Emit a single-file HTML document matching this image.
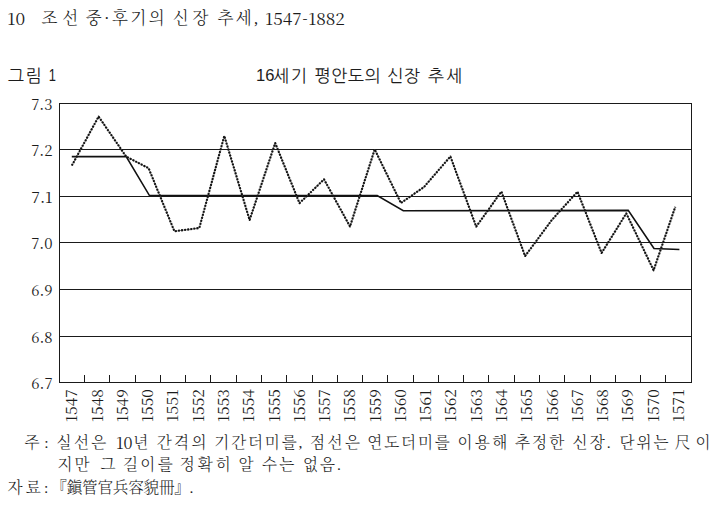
<!DOCTYPE html>
<html lang="ko">
<head>
<meta charset="utf-8">
<title>16세기 평안도의 신장 추세</title>
<style>
html,body{margin:0;padding:0;background:#fff;}
body{width:716px;height:509px;overflow:hidden;}
svg{display:block;}
.serif{font-family:"Liberation Serif","Noto Serif CJK SC",serif;font-weight:300;}
.sans{font-family:"Liberation Sans","NanumGothic","Noto Sans CJK KR",sans-serif;}
.num{font-family:"Noto Serif CJK SC","Liberation Serif",serif;font-weight:400;}
text{fill:#1c1c1c;}
</style>
</head>
<body>
<svg width="716" height="509" viewBox="0 0 716 509">
<rect x="0" y="0" width="716" height="509" fill="#ffffff"/>
<g class="serif" font-size="16.5">
<text x="7.39" y="24.7" font-size="16.0" class="num" textLength="17.81" lengthAdjust="spacingAndGlyphs">10</text>
<text x="41.38" y="24.4" textLength="36.87" lengthAdjust="spacing">조선</text>
<text x="85.63" y="24.4" textLength="79.12" lengthAdjust="spacing">중·후기의</text>
<text x="172.65" y="24.4" textLength="35.74" lengthAdjust="spacing">신장</text>
<text x="217.39" y="24.4" textLength="40.64" lengthAdjust="spacing">추세,</text>
<text x="265.12" y="24.7" font-size="16.0" class="num" textLength="79.79" lengthAdjust="spacingAndGlyphs">1547-1882</text>
</g>
<g class="sans" font-size="17.2">
<text x="7.80" y="81.5" textLength="33.98" lengthAdjust="spacing">그림</text>
<text x="48.64" y="80.6" font-size="16.6" textLength="7.18" lengthAdjust="spacingAndGlyphs">1</text>
</g>
<g class="sans" font-size="17.2">
<text x="256.07" y="81.0" font-size="16.6" textLength="18.41" lengthAdjust="spacingAndGlyphs">16</text>
<text x="273.35" y="81.9" textLength="33.54" lengthAdjust="spacing">세기</text>
<text x="314.39" y="81.9" textLength="66.16" lengthAdjust="spacing">평안도의</text>
<text x="387.19" y="81.9" textLength="32.75" lengthAdjust="spacing">신장</text>
<text x="427.76" y="81.9" textLength="34.54" lengthAdjust="spacing">추세</text>
</g>
<g class="serif" font-size="15.6">
<text x="24.40" y="448.4" textLength="24.07" lengthAdjust="spacing">주:</text>
<text x="56.62" y="448.4" textLength="49.62" lengthAdjust="spacing">실선은</text>
<text x="115.97" y="448.7" font-size="16.0" class="num" textLength="16.58" lengthAdjust="spacingAndGlyphs">10</text>
<text x="133.24" y="448.4">년</text>
<text x="156.67" y="448.4" textLength="49.83" lengthAdjust="spacing">간격의</text>
<text x="214.28" y="448.4" textLength="88.16" lengthAdjust="spacing">기간더미를,</text>
<text x="309.91" y="448.4" textLength="50.11" lengthAdjust="spacing">점선은</text>
<text x="367.25" y="448.4" textLength="82.61" lengthAdjust="spacing">연도더미를</text>
<text x="457.46" y="448.4" textLength="49.89" lengthAdjust="spacing">이용해</text>
<text x="515.05" y="448.4" textLength="49.18" lengthAdjust="spacing">추정한</text>
<text x="572.44" y="448.4" textLength="38.34" lengthAdjust="spacing">신장.</text>
<text x="619.42" y="448.4" textLength="49.05" lengthAdjust="spacing">단위는</text>
<text x="674.84" y="448.4" textLength="35.71" lengthAdjust="spacing">尺이</text>
</g>
<g class="serif" font-size="15.6">
<text x="57.50" y="470.4" textLength="32.11" lengthAdjust="spacing">지만</text>
<text x="100.40" y="470.4">그</text>
<text x="122.89" y="470.4" textLength="49.82" lengthAdjust="spacing">길이를</text>
<text x="179.79" y="470.4" textLength="50.94" lengthAdjust="spacing">정확히</text>
<text x="238.45" y="470.4">알</text>
<text x="262.10" y="470.4" textLength="32.24" lengthAdjust="spacing">수는</text>
<text x="303.08" y="470.4" textLength="37.87" lengthAdjust="spacing">없음.</text>
</g>
<g class="serif" font-size="15.6">
<text x="7.62" y="493.4" textLength="40.84" lengthAdjust="spacing">자료:</text>
<text x="51.33" y="493.4" textLength="142.19" lengthAdjust="spacing">『鎭管官兵容貌冊』.</text>
</g>
<g stroke="#1a1a1a" stroke-width="1" fill="none">
<line x1="59.0" y1="103.5" x2="692.0" y2="103.5"/>
<line x1="59.0" y1="149.5" x2="692.0" y2="149.5"/>
<line x1="59.0" y1="196.5" x2="692.0" y2="196.5"/>
<line x1="59.0" y1="242.5" x2="692.0" y2="242.5"/>
<line x1="59.0" y1="289.5" x2="692.0" y2="289.5"/>
<line x1="59.0" y1="336.5" x2="692.0" y2="336.5"/>
<line x1="59.0" y1="382.5" x2="692.0" y2="382.5"/>
<line x1="59.5" y1="103.5" x2="59.5" y2="382.5"/>
<line x1="691.5" y1="103.5" x2="691.5" y2="382.5"/>
<line x1="84.5" y1="375" x2="84.5" y2="382.5"/>
<line x1="109.5" y1="375" x2="109.5" y2="382.5"/>
<line x1="135.5" y1="375" x2="135.5" y2="382.5"/>
<line x1="160.5" y1="375" x2="160.5" y2="382.5"/>
<line x1="185.5" y1="375" x2="185.5" y2="382.5"/>
<line x1="210.5" y1="375" x2="210.5" y2="382.5"/>
<line x1="236.5" y1="375" x2="236.5" y2="382.5"/>
<line x1="261.5" y1="375" x2="261.5" y2="382.5"/>
<line x1="286.5" y1="375" x2="286.5" y2="382.5"/>
<line x1="312.5" y1="375" x2="312.5" y2="382.5"/>
<line x1="337.5" y1="375" x2="337.5" y2="382.5"/>
<line x1="362.5" y1="375" x2="362.5" y2="382.5"/>
<line x1="387.5" y1="375" x2="387.5" y2="382.5"/>
<line x1="413.5" y1="375" x2="413.5" y2="382.5"/>
<line x1="438.5" y1="375" x2="438.5" y2="382.5"/>
<line x1="463.5" y1="375" x2="463.5" y2="382.5"/>
<line x1="488.5" y1="375" x2="488.5" y2="382.5"/>
<line x1="514.5" y1="375" x2="514.5" y2="382.5"/>
<line x1="539.5" y1="375" x2="539.5" y2="382.5"/>
<line x1="564.5" y1="375" x2="564.5" y2="382.5"/>
<line x1="590.5" y1="375" x2="590.5" y2="382.5"/>
<line x1="615.5" y1="375" x2="615.5" y2="382.5"/>
<line x1="640.5" y1="375" x2="640.5" y2="382.5"/>
<line x1="665.5" y1="375" x2="665.5" y2="382.5"/>
</g>
<g class="num" font-size="15.2" text-anchor="end">
<text x="52.6" y="109.6" textLength="21.4" lengthAdjust="spacingAndGlyphs">7.3</text>
<text x="52.6" y="155.6" textLength="21.4" lengthAdjust="spacingAndGlyphs">7.2</text>
<text x="52.6" y="202.6" textLength="21.4" lengthAdjust="spacingAndGlyphs">7.1</text>
<text x="52.6" y="248.6" textLength="21.4" lengthAdjust="spacingAndGlyphs">7.0</text>
<text x="52.6" y="295.6" textLength="21.4" lengthAdjust="spacingAndGlyphs">6.9</text>
<text x="52.6" y="342.6" textLength="21.4" lengthAdjust="spacingAndGlyphs">6.8</text>
<text x="52.6" y="388.6" textLength="21.4" lengthAdjust="spacingAndGlyphs">6.7</text>
</g>
<g class="num" font-size="15.2">
<text transform="translate(77.2,422.2) rotate(-90)" textLength="33.0" lengthAdjust="spacingAndGlyphs">1547</text>
<text transform="translate(102.5,422.2) rotate(-90)" textLength="33.0" lengthAdjust="spacingAndGlyphs">1548</text>
<text transform="translate(127.8,422.2) rotate(-90)" textLength="33.0" lengthAdjust="spacingAndGlyphs">1549</text>
<text transform="translate(153.1,422.2) rotate(-90)" textLength="33.0" lengthAdjust="spacingAndGlyphs">1550</text>
<text transform="translate(178.4,422.2) rotate(-90)" textLength="33.0" lengthAdjust="spacingAndGlyphs">1551</text>
<text transform="translate(203.6,422.2) rotate(-90)" textLength="33.0" lengthAdjust="spacingAndGlyphs">1552</text>
<text transform="translate(228.9,422.2) rotate(-90)" textLength="33.0" lengthAdjust="spacingAndGlyphs">1553</text>
<text transform="translate(254.2,422.2) rotate(-90)" textLength="33.0" lengthAdjust="spacingAndGlyphs">1554</text>
<text transform="translate(279.5,422.2) rotate(-90)" textLength="33.0" lengthAdjust="spacingAndGlyphs">1555</text>
<text transform="translate(304.8,422.2) rotate(-90)" textLength="33.0" lengthAdjust="spacingAndGlyphs">1556</text>
<text transform="translate(330.0,422.2) rotate(-90)" textLength="33.0" lengthAdjust="spacingAndGlyphs">1557</text>
<text transform="translate(355.3,422.2) rotate(-90)" textLength="33.0" lengthAdjust="spacingAndGlyphs">1558</text>
<text transform="translate(380.6,422.2) rotate(-90)" textLength="33.0" lengthAdjust="spacingAndGlyphs">1559</text>
<text transform="translate(405.9,422.2) rotate(-90)" textLength="33.0" lengthAdjust="spacingAndGlyphs">1560</text>
<text transform="translate(431.2,422.2) rotate(-90)" textLength="33.0" lengthAdjust="spacingAndGlyphs">1561</text>
<text transform="translate(456.4,422.2) rotate(-90)" textLength="33.0" lengthAdjust="spacingAndGlyphs">1562</text>
<text transform="translate(481.7,422.2) rotate(-90)" textLength="33.0" lengthAdjust="spacingAndGlyphs">1563</text>
<text transform="translate(507.0,422.2) rotate(-90)" textLength="33.0" lengthAdjust="spacingAndGlyphs">1564</text>
<text transform="translate(532.3,422.2) rotate(-90)" textLength="33.0" lengthAdjust="spacingAndGlyphs">1565</text>
<text transform="translate(557.6,422.2) rotate(-90)" textLength="33.0" lengthAdjust="spacingAndGlyphs">1566</text>
<text transform="translate(582.8,422.2) rotate(-90)" textLength="33.0" lengthAdjust="spacingAndGlyphs">1567</text>
<text transform="translate(608.1,422.2) rotate(-90)" textLength="33.0" lengthAdjust="spacingAndGlyphs">1568</text>
<text transform="translate(633.4,422.2) rotate(-90)" textLength="33.0" lengthAdjust="spacingAndGlyphs">1569</text>
<text transform="translate(658.7,422.2) rotate(-90)" textLength="33.0" lengthAdjust="spacingAndGlyphs">1570</text>
<text transform="translate(684.0,422.2) rotate(-90)" textLength="33.0" lengthAdjust="spacingAndGlyphs">1571</text>
</g>
<polyline points="71.8,156.6 126.2,156.6 149.3,195.3 377.2,195.6 403.3,210.8 628.2,210.4 654.0,248.5 679.4,249.5" fill="none" stroke="#111" stroke-width="1.6" stroke-linejoin="miter"/>
<polyline points="71.8,165.6 98.6,116.6 126.2,156.6 148.6,168.2 174.4,231.3 199.3,228.0 224.3,135.9 249.6,220.0 275.2,143.0 299.5,203.2 324.0,179.3 350.0,226.5 374.7,149.4 400.9,203.0 424.0,187.0 450.4,156.5 476.2,226.6 501.4,191.7 525.1,256.0 552.0,219.8 577.5,191.7 601.6,253.0 626.3,213.4 653.6,270.3 675.3,206.8" fill="none" stroke="#555" stroke-width="0.8"/>
<polyline points="71.8,165.6 98.6,116.6 126.2,156.6 148.6,168.2 174.4,231.3 199.3,228.0 224.3,135.9 249.6,220.0 275.2,143.0 299.5,203.2 324.0,179.3 350.0,226.5 374.7,149.4 400.9,203.0 424.0,187.0 450.4,156.5 476.2,226.6 501.4,191.7 525.1,256.0 552.0,219.8 577.5,191.7 601.6,253.0 626.3,213.4 653.6,270.3 675.3,206.8" fill="none" stroke="#111" stroke-width="2.1" stroke-dasharray="1.9 1.2" stroke-linejoin="round"/>
</svg>
</body>
</html>
